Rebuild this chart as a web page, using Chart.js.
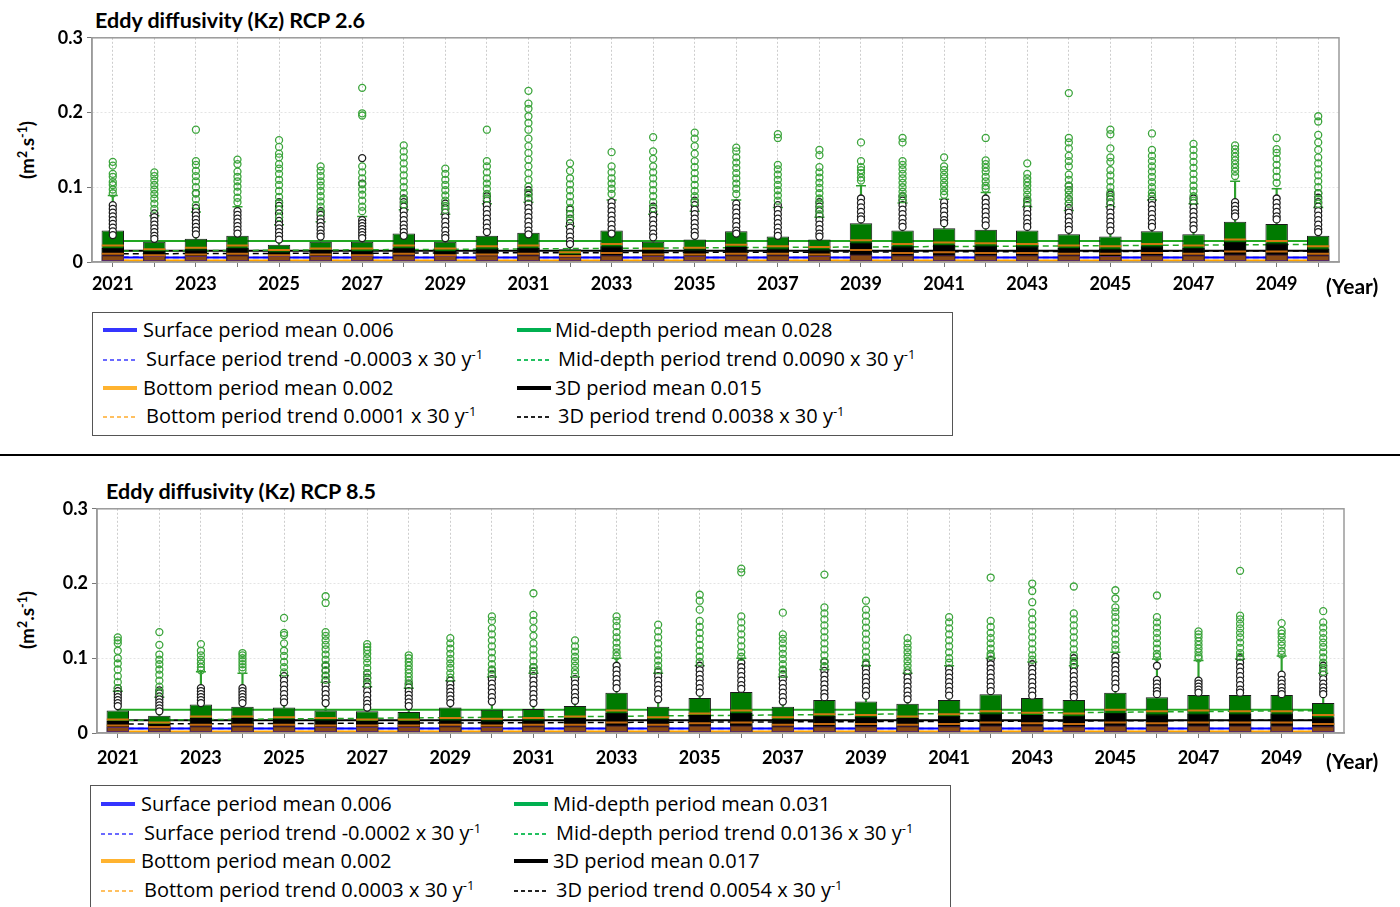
<!DOCTYPE html>
<html>
<head>
<meta charset="utf-8">
<script src="https://cdn.jsdelivr.net/npm/chart.js@4.4.1/dist/chart.umd.min.js"></script>
<style>
body { margin: 0; background: #fff; font-family: Lato, sans-serif; color: #000; }
#page { position: relative; width: 1400px; height: 907px; overflow: hidden; }
canvas { position: absolute; }
.title { position: absolute; font-weight: bold; font-size: 21.5px; line-height: 24px; white-space: nowrap; }
.ytitle { position: absolute; font-weight: bold; font-size: 19px; white-space: nowrap; transform: translate(-50%, -50%) rotate(-90deg); }
.year { position: absolute; font-weight: bold; font-size: 21px; line-height: 24px; }
.legend { position: absolute; border: 1.5px solid #555; box-sizing: border-box; background: #fff; }
.row { position: absolute; font-family: 'Open Sans', sans-serif; font-size: 20px; line-height: 24px; white-space: nowrap; transform: translateY(-50%); }
.sw { position: absolute; width: 34px; }
sup { font-size: 65%; vertical-align: 0.55em; line-height: 0; }
#sep { position: absolute; left: 0; top: 454px; width: 1400px; height: 2px; background: #000; }
</style>
</head>
<body>
<div id="page">
  <div class="title" style="left:95px; top:8px">Eddy diffusivity (Kz) RCP 2.6</div>
  <div class="ytitle" style="left:26px; top:150px">(m<sup>2</sup>.s<sup>-1</sup>)</div>
  <canvas id="c26" width="1352" height="279" style="left:0; top:23px"></canvas>
  <div class="year" style="left:1326px; top:274px">(Year)</div>
  <div class="legend" id="leg26" style="left:92px; top:312px; width:861px; height:124px"></div>

  <div id="sep"></div>

  <div class="title" style="left:106px; top:479px">Eddy diffusivity (Kz) RCP 8.5</div>
  <div class="ytitle" style="left:26px; top:620px">(m<sup>2</sup>.s<sup>-1</sup>)</div>
  <canvas id="c85" width="1357" height="279" style="left:0; top:494px"></canvas>
  <div class="year" style="left:1326px; top:749px">(Year)</div>
  <div class="legend" id="leg85" style="left:90px; top:785px; width:861px; height:140px"></div>
</div>
<script>
const years = ['2021','2022','2023','2024','2025','2026','2027','2028','2029','2030',
    '2031','2032','2033','2034','2035','2036','2037','2038','2039','2040',
    '2041','2042','2043','2044','2045','2046','2047','2048','2049','2050']

// order in legend: Surface, Bottom, Mid-depth, 3D
const layerNames = ['Surface', 'Bottom', 'Mid-depth', '3D']

// ---------- RCP 2.6 ----------
const mean26 = [0.006, 0.002, 0.028, 0.015]
const trend26 = [-0.0003, 0.0001, 0.0090, 0.0038]
const trendStart26 = [0.0062, 0.0019, 0.0145, 0.0110]
const trendEnd26 = [0.0059, 0.0020, 0.0235, 0.0148]

const midQ3_26 = [0.042,0.027,0.031,0.035,0.023,0.027,0.027,0.038,0.027,0.035,0.039,0.017,0.042,0.027,0.030,
    0.041,0.034,0.030,0.052,0.042,0.045,0.043,0.042,0.037,0.034,0.041,0.037,0.054,0.051,0.035]
const midMed_26 = [0.022,0.017,0.019,0.022,0.016,0.018,0.018,0.022,0.018,0.021,0.022,0.013,0.024,0.018,0.019,
    0.023,0.021,0.020,0.029,0.024,0.026,0.025,0.024,0.022,0.021,0.024,0.022,0.030,0.028,0.021]
const midCap_26 = [0.089,0.062,0.067,0.074,0.050,0.054,0.061,0.070,0.064,0.078,0.080,0.048,0.083,0.064,0.068,
    0.083,0.073,0.060,0.102,0.079,0.084,0.093,0.074,0.069,0.074,0.083,0.078,0.108,0.098,0.073]
const d3Q3_26 = [0.019,0.015,0.017,0.019,0.014,0.016,0.015,0.019,0.015,0.018,0.019,0.011,0.021,0.016,0.017,
    0.020,0.018,0.017,0.026,0.021,0.023,0.022,0.021,0.019,0.018,0.021,0.019,0.027,0.025,0.018]
const d3Med_26 = [0.011,0.009,0.010,0.011,0.009,0.010,0.009,0.011,0.009,0.010,0.011,0.008,0.012,0.010,0.010,
    0.011,0.011,0.010,0.016,0.012,0.013,0.012,0.012,0.011,0.011,0.012,0.011,0.014,0.014,0.011]
const surfQ3_26 = [0.009,0.008,0.008,0.009,0.008,0.008,0.008,0.009,0.008,0.009,0.009,0.007,0.009,0.008,0.008,
    0.009,0.009,0.008,0.010,0.009,0.009,0.009,0.009,0.009,0.008,0.009,0.009,0.010,0.010,0.009]
const midOut_26 = [
    [0.134,0.129,0.118,0.114,0.107,0.103,0.097,0.092],
    [0.120,0.115,0.109,0.103,0.097,0.091,0.085,0.078,0.071],
    [0.177,0.135,0.130,0.122,0.115,0.108,0.100,0.092,0.084,0.076],
    [0.137,0.131,0.121,0.114,0.108,0.101,0.094,0.086,0.080],
    [0.163,0.154,0.145,0.140,0.131,0.125,0.118,0.110,0.103,0.095,0.087,0.079,0.070,0.060],
    [0.128,0.122,0.115,0.108,0.102,0.095,0.088,0.081,0.074,0.066],
    [0.233,0.199,0.196,0.128,0.120,0.112,0.104,0.097,0.090,0.082,0.074,0.068],
    [0.156,0.148,0.140,0.132,0.124,0.116,0.108,0.100,0.092,0.084,0.077],
    [0.125,0.118,0.110,0.103,0.096,0.089,0.082,0.075,0.070],
    [0.177,0.135,0.128,0.120,0.112,0.105,0.098,0.091,0.085],
    [0.229,0.212,0.205,0.195,0.186,0.177,0.165,0.155,0.146,0.137,0.128,0.119,0.110,0.101,0.092,0.086],
    [0.132,0.122,0.112,0.104,0.096,0.088,0.080,0.072,0.064,0.057],
    [0.147,0.128,0.120,0.112,0.105,0.098,0.091],
    [0.167,0.148,0.138,0.128,0.120,0.112,0.104,0.096,0.088,0.080,0.072],
    [0.173,0.165,0.155,0.145,0.135,0.127,0.119,0.111,0.103,0.095,0.088,0.080],
    [0.153,0.148,0.140,0.133,0.126,0.119,0.112,0.105,0.098,0.091],
    [0.171,0.166,0.130,0.124,0.117,0.110,0.103,0.096,0.089,0.082],
    [0.150,0.143,0.127,0.120,0.113,0.106,0.099,0.092,0.085,0.078,0.070,0.064],
    [0.160,0.135,0.127,0.123,0.119,0.113,0.109],
    [0.166,0.160,0.135,0.130,0.124,0.118,0.112,0.106,0.100,0.094,0.088,0.084],
    [0.140,0.128,0.123,0.117,0.112,0.106,0.101,0.095,0.090],
    [0.166,0.136,0.131,0.126,0.121,0.114,0.108,0.102,0.098],
    [0.132,0.118,0.112,0.107,0.102,0.096,0.090,0.084,0.079],
    [0.226,0.166,0.160,0.152,0.142,0.135,0.128,0.117,0.110,0.102,0.096,0.090,0.084,0.078],
    [0.177,0.171,0.152,0.140,0.134,0.123,0.116,0.108,0.100,0.093,0.087,0.080],
    [0.172,0.150,0.142,0.135,0.128,0.121,0.114,0.107,0.100,0.093,0.088],
    [0.158,0.150,0.142,0.134,0.126,0.118,0.110,0.102,0.095,0.088,0.082],
    [0.156,0.151,0.146,0.141,0.136,0.131,0.126,0.121,0.115],
    [0.166,0.151,0.146,0.138,0.130,0.122,0.114,0.106],
    [0.195,0.188,0.170,0.160,0.150,0.140,0.132,0.124,0.116,0.108,0.100,0.092,0.084,0.078]
]
const d3Out_26 = [
    [0.076,0.071,0.066,0.061,0.056,0.051,0.046,0.041,0.036],
    [0.065,0.060,0.055,0.050,0.045,0.040,0.035,0.031],
    [0.092,0.072,0.067,0.062,0.057,0.052,0.047,0.042,0.037],
    [0.068,0.063,0.058,0.053,0.048,0.043,0.038],
    [0.080,0.075,0.070,0.065,0.060,0.055,0.050,0.045,0.040,0.035,0.030],
    [0.068,0.063,0.058,0.053,0.048,0.043,0.038,0.034],
    [0.139,0.105,0.056,0.052,0.048,0.044,0.040,0.036,0.032],
    [0.085,0.080,0.074,0.068,0.062,0.056,0.050,0.045,0.040,0.035],
    [0.078,0.072,0.066,0.060,0.054,0.048,0.042,0.036,0.032],
    [0.088,0.082,0.076,0.070,0.064,0.058,0.052,0.046,0.040],
    [0.096,0.090,0.084,0.078,0.072,0.066,0.060,0.054,0.048,0.042,0.037],
    [0.070,0.064,0.058,0.052,0.046,0.040,0.034,0.028,0.024],
    [0.080,0.074,0.068,0.062,0.056,0.050,0.044,0.038],
    [0.074,0.068,0.062,0.056,0.050,0.044,0.038,0.033],
    [0.082,0.076,0.070,0.064,0.058,0.052,0.046,0.040,0.035],
    [0.078,0.072,0.066,0.060,0.054,0.048,0.042,0.038],
    [0.076,0.070,0.064,0.058,0.052,0.046,0.040,0.035],
    [0.080,0.074,0.068,0.062,0.056,0.050,0.044,0.038,0.034],
    [0.085,0.079,0.073,0.067,0.061,0.057],
    [0.088,0.082,0.076,0.070,0.064,0.058,0.052,0.047],
    [0.080,0.074,0.068,0.062,0.056,0.052],
    [0.085,0.079,0.073,0.067,0.061,0.055,0.049],
    [0.082,0.076,0.070,0.064,0.058,0.052,0.047],
    [0.102,0.096,0.084,0.078,0.072,0.066,0.060,0.054,0.048,0.043],
    [0.090,0.084,0.078,0.072,0.066,0.060,0.054,0.048,0.042],
    [0.088,0.082,0.076,0.070,0.064,0.058,0.052,0.047],
    [0.085,0.079,0.073,0.067,0.061,0.055,0.049,0.044],
    [0.080,0.075,0.070,0.065,0.061],
    [0.085,0.079,0.073,0.067,0.061,0.057],
    [0.092,0.086,0.080,0.074,0.068,0.062,0.056,0.050,0.044,0.040]
]

// ---------- RCP 8.5 ----------
const mean85 = [0.006, 0.002, 0.031, 0.017]
const trend85 = [-0.0002, 0.0003, 0.0136, 0.0054]
const trendStart85 = [0.0061, 0.0018, 0.0170, 0.0120]
const trendEnd85 = [0.0059, 0.0021, 0.0300, 0.0172]

const midQ3_85 = [0.030,0.023,0.038,0.035,0.034,0.030,0.029,0.028,0.034,0.031,0.032,0.036,0.054,0.035,0.047,
    0.055,0.035,0.044,0.042,0.039,0.044,0.052,0.047,0.044,0.054,0.048,0.051,0.051,0.051,0.040]
const midMed_85 = [0.018,0.014,0.022,0.022,0.021,0.020,0.018,0.018,0.020,0.019,0.020,0.022,0.030,0.021,0.026,
    0.030,0.021,0.025,0.024,0.022,0.025,0.029,0.027,0.026,0.031,0.029,0.030,0.029,0.029,0.024]
const midCap_85 = [0.056,0.048,0.082,0.080,0.077,0.068,0.062,0.060,0.070,0.075,0.080,0.075,0.100,0.080,0.090,
    0.100,0.075,0.085,0.090,0.080,0.090,0.100,0.095,0.090,0.108,0.099,0.097,0.099,0.103,0.080]
const d3Q3_85 = [0.016,0.012,0.020,0.020,0.019,0.018,0.016,0.016,0.018,0.017,0.018,0.020,0.027,0.019,0.024,
    0.027,0.019,0.023,0.022,0.020,0.023,0.026,0.024,0.023,0.027,0.025,0.026,0.026,0.026,0.021]
const d3Med_85 = [0.010,0.008,0.011,0.011,0.011,0.010,0.010,0.010,0.011,0.010,0.011,0.011,0.014,0.011,0.013,
    0.014,0.011,0.012,0.012,0.011,0.012,0.014,0.013,0.012,0.014,0.013,0.014,0.014,0.014,0.012]
const surfQ3_85 = [0.008,0.007,0.009,0.009,0.009,0.008,0.008,0.008,0.009,0.008,0.009,0.009,0.010,0.009,0.010,
    0.010,0.009,0.009,0.009,0.009,0.009,0.010,0.010,0.009,0.010,0.010,0.010,0.010,0.010,0.009]
const midOut_85 = [
    [0.128,0.124,0.120,0.110,0.100,0.093,0.085,0.076,0.068,0.060],
    [0.135,0.118,0.105,0.098,0.092,0.085,0.078,0.070,0.062,0.055],
    [0.119,0.110,0.104,0.098,0.093,0.088,0.084],
    [0.107,0.104,0.100,0.096,0.092,0.088,0.084],
    [0.154,0.134,0.131,0.120,0.110,0.103,0.095,0.088,0.081],
    [0.183,0.174,0.135,0.130,0.124,0.118,0.112,0.105,0.098,0.091,0.084,0.077,0.071],
    [0.119,0.115,0.111,0.106,0.100,0.094,0.087,0.080,0.073,0.066],
    [0.104,0.100,0.095,0.090,0.085,0.080,0.075,0.070,0.064],
    [0.127,0.120,0.113,0.106,0.099,0.093,0.087,0.080,0.074],
    [0.156,0.150,0.140,0.132,0.124,0.116,0.108,0.100,0.092,0.085,0.079],
    [0.187,0.158,0.150,0.140,0.130,0.120,0.112,0.104,0.096,0.088,0.083],
    [0.124,0.116,0.109,0.102,0.096,0.090,0.084,0.079],
    [0.156,0.150,0.143,0.135,0.128,0.121,0.114,0.108,0.103],
    [0.145,0.136,0.128,0.120,0.112,0.104,0.097,0.090,0.084],
    [0.185,0.177,0.165,0.150,0.142,0.134,0.126,0.118,0.110,0.102,0.095],
    [0.220,0.215,0.156,0.148,0.140,0.132,0.124,0.116,0.108,0.102],
    [0.161,0.132,0.126,0.120,0.113,0.106,0.099,0.092,0.085,0.079],
    [0.212,0.168,0.160,0.152,0.144,0.136,0.128,0.120,0.112,0.104,0.096,0.089],
    [0.177,0.165,0.157,0.149,0.141,0.133,0.125,0.117,0.109,0.101,0.094],
    [0.127,0.120,0.114,0.108,0.102,0.096,0.090,0.084],
    [0.155,0.148,0.140,0.132,0.124,0.116,0.108,0.100,0.094],
    [0.208,0.150,0.142,0.134,0.127,0.120,0.113,0.106,0.103],
    [0.200,0.190,0.175,0.161,0.152,0.144,0.136,0.128,0.120,0.112,0.104,0.098],
    [0.196,0.160,0.152,0.144,0.136,0.128,0.120,0.112,0.104,0.096,0.092],
    [0.191,0.180,0.168,0.162,0.155,0.148,0.140,0.133,0.125,0.118,0.112],
    [0.184,0.155,0.148,0.141,0.134,0.127,0.120,0.113,0.106,0.102],
    [0.136,0.132,0.128,0.123,0.118,0.113,0.108,0.103,0.100],
    [0.217,0.157,0.152,0.146,0.140,0.134,0.128,0.121,0.114,0.107,0.102],
    [0.147,0.137,0.133,0.128,0.122,0.117,0.110,0.105],
    [0.163,0.148,0.141,0.134,0.127,0.121,0.115,0.108,0.101,0.094,0.087,0.082]
]
const d3Out_85 = [
    [0.060,0.056,0.052,0.048,0.044,0.040,0.036],
    [0.057,0.053,0.049,0.045,0.041,0.037,0.033,0.029],
    [0.060,0.056,0.052,0.048,0.044,0.040],
    [0.060,0.056,0.052,0.048,0.044,0.040],
    [0.076,0.070,0.064,0.058,0.052,0.046,0.041],
    [0.090,0.083,0.076,0.070,0.064,0.058,0.052,0.046,0.040],
    [0.080,0.074,0.068,0.062,0.056,0.050,0.044,0.039,0.034],
    [0.066,0.061,0.056,0.051,0.046,0.041,0.036],
    [0.070,0.065,0.060,0.055,0.050,0.045,0.040],
    [0.084,0.078,0.072,0.066,0.060,0.054,0.048,0.042],
    [0.088,0.082,0.076,0.070,0.064,0.058,0.052,0.046,0.040],
    [0.072,0.066,0.060,0.054,0.048,0.043],
    [0.090,0.084,0.078,0.072,0.066,0.060],
    [0.082,0.076,0.070,0.064,0.058,0.052,0.045],
    [0.090,0.084,0.078,0.072,0.066,0.060,0.054],
    [0.094,0.088,0.082,0.076,0.070,0.064,0.059],
    [0.084,0.078,0.072,0.066,0.060,0.054,0.048,0.042],
    [0.095,0.089,0.083,0.077,0.071,0.065,0.059,0.053,0.048],
    [0.092,0.086,0.080,0.074,0.068,0.062,0.056,0.050],
    [0.080,0.074,0.068,0.062,0.056,0.050,0.045],
    [0.086,0.080,0.074,0.068,0.062,0.056,0.050],
    [0.098,0.092,0.086,0.080,0.074,0.068,0.062,0.056],
    [0.092,0.086,0.080,0.074,0.068,0.062,0.056,0.050],
    [0.100,0.094,0.088,0.082,0.076,0.070,0.064,0.058,0.052,0.048],
    [0.102,0.096,0.090,0.084,0.078,0.072,0.066,0.060],
    [0.090,0.071,0.066,0.061,0.056,0.052],
    [0.070,0.066,0.062,0.058,0.054],
    [0.100,0.094,0.088,0.082,0.076,0.070,0.064,0.058,0.054],
    [0.078,0.071,0.066,0.061,0.056,0.052],
    [0.090,0.084,0.078,0.072,0.066,0.061,0.056,0.052]
]

// chart colours (surface, bottom, mid-depth, 3D)
const lineColors = ['#0000ff', '#ffa500', '#22a722', '#000000']
const legSolid = ['#3535ff', '#ffb330', '#00b050', '#000000']
const legDash = ['#6a6aff', '#ffc060', '#22c060', '#222222']

Chart.defaults.font.family = 'Lato, sans-serif'

const frame = {
    id: 'frame',
    afterDatasetsDraw(chart) {
        const {ctx, chartArea: a} = chart
        ctx.save()
        ctx.strokeStyle = '#9a9a9a'
        ctx.lineWidth = 1.5
        ctx.strokeRect(a.left, a.top, a.right - a.left, a.bottom - a.top)
        ctx.restore()
    }
}

function pts(arr) {
    return arr.map((v, i) => ({x: years[i], y: v}))
}

function flat(lists) {
    const out = []
    lists.forEach((l, i) => l.forEach(v => out.push({x: years[i], y: v})))
    return out
}

function ends(a, b) {
    return [{x: years[0], y: a}, {x: years[years.length - 1], y: b}]
}

function boxChart(id, d) {
    const sets = []
    for (let k = 0; k < 4; k++) {
        sets.push({
            type: 'line', data: ends(d.mean[k], d.mean[k]), borderColor: lineColors[k],
            borderWidth: 2, pointRadius: 0, order: 20
        })
        sets.push({
            type: 'line', data: ends(d.tStart[k], d.tEnd[k]), borderColor: lineColors[k],
            borderWidth: 1.5, borderDash: [6, 4], pointRadius: 0, order: 19
        })
    }
    const bar = {categoryPercentage: 1, barPercentage: 0.54, grouped: false, borderSkipped: false}
    sets.push({
        type: 'bar', data: d.midQ3.map((v, i) => [v, d.midCap[i]]), backgroundColor: '#2ca02c',
        barThickness: 1.5, grouped: false, order: 15
    })
    sets.push(Object.assign({
        type: 'bar', data: d.midQ3.map(v => [0.0015, v]), backgroundColor: '#007a00',
        borderColor: '#1a1a1a', borderWidth: 1, order: 14
    }, bar))
    sets.push(Object.assign({
        type: 'bar', data: d.d3Q3.map(v => [0.0015, v]), backgroundColor: '#000000',
        borderColor: '#000000', borderWidth: 1, order: 13
    }, bar))
    sets.push(Object.assign({
        type: 'bar', data: d.surfQ3.map(v => [0.0015, v]), backgroundColor: '#8a4a14',
        borderColor: '#5a2a66', borderWidth: 1, order: 12
    }, bar))
    const tick = (arr, color, r, w, ord) => ({
        type: 'line', data: pts(arr), showLine: false, pointStyle: 'line', pointRadius: r,
        borderColor: color, borderWidth: w, order: ord
    })
    sets.push(tick(d.midMed, '#d07a10', 11, 2, 11))
    sets.push(tick(d.d3Med, '#c46a10', 11, 2, 11))
    sets.push(tick(d.midCap, '#2ca02c', 5, 1.5, 10))
    sets.push({
        type: 'line', data: flat(d.d3Out), showLine: false, pointStyle: 'circle', pointRadius: 3.5,
        borderColor: '#1e1e1e', backgroundColor: '#fff', borderWidth: 1.3, order: 9
    })
    sets.push({
        type: 'line', data: flat(d.midOut), showLine: false, pointStyle: 'circle', pointRadius: 3.5,
        borderColor: '#3ca53c', backgroundColor: 'rgba(255,255,255,0)', borderWidth: 1.3, order: 8
    })

    return new Chart(document.getElementById(id), {
        type: 'bar',
        data: {labels: years, datasets: sets},
        plugins: [frame],
        options: {
            responsive: false,
            animation: false,
            events: [],
            layout: {padding: {top: 0, right: 6, left: d.left, bottom: 0}},
            plugins: {legend: {display: false}, tooltip: {enabled: false}},
            scales: {
                x: {
                    type: 'category', offset: true,
                    afterFit: s => { s.height = 40 },
                    grid: {offset: false, color: '#cdcdcd', tickColor: '#777', tickLength: 5, tickBorderDash: []},
                    border: {color: '#9a9a9a', width: 1.5, dash: [2, 2]},
                    ticks: {
                        autoSkip: false, maxRotation: 0, padding: d.tickPad, color: '#000',
                        font: {size: 18, weight: 'bold'},
                        callback: (v, i) => i % 2 === 0 ? years[i] : ''
                    }
                },
                y: {
                    min: 0, max: 0.3,
                    afterFit: s => { s.width = 92 },
                    grid: {color: '#e4e4e4', tickColor: '#777', tickLength: 5, tickBorderDash: []},
                    border: {color: '#9a9a9a', width: 1.5, dash: [2, 2]},
                    ticks: {
                        stepSize: 0.1, padding: 4, color: '#000',
                        font: {size: 18, weight: 'bold'},
                        callback: v => v === 0 ? '0' : v.toFixed(1)
                    }
                }
            }
        }
    })
}

function legend(id, mean, trend, rowsY, lineX, textX) {
    const box = document.getElementById(id)
    const order = [[0, 1], [2, 3]]
    order.forEach((pair, col) => {
        let r = 0
        pair.forEach(k => {
            const name = layerNames[k]
            const items = [
                {solid: true, html: `${name} period mean ${mean[k].toFixed(3)}`},
                {solid: false, html: `${name} period trend ${trend[k].toFixed(4)} x 30 y<sup>-1</sup>`}
            ]
            items.forEach(it => {
                const y = rowsY[r]
                const sw = document.createElement('div')
                sw.className = 'sw'
                sw.style.left = lineX[col] + 'px'
                if (it.solid) {
                    sw.style.top = (y - 2) + 'px'
                    sw.style.height = '4px'
                    sw.style.background = legSolid[k]
                } else {
                    sw.style.top = y + 'px'
                    sw.style.height = '1.5px'
                    sw.style.background = `repeating-linear-gradient(90deg, ${legDash[k]} 0 4px, transparent 4px 7px)`
                }
                box.appendChild(sw)
                const t = document.createElement('div')
                t.className = 'row'
                t.style.left = (textX[col] + (it.solid ? 0 : 3)) + 'px'
                t.style.top = y + 'px'
                t.innerHTML = it.html
                box.appendChild(t)
                r++
            })
        })
    })
}

boxChart('c26', {
    mean: mean26, tStart: trendStart26, tEnd: trendEnd26, left: 0, tickPad: 6,
    midQ3: midQ3_26, midMed: midMed_26, midCap: midCap_26, d3Q3: d3Q3_26, d3Med: d3Med_26,
    surfQ3: surfQ3_26, midOut: midOut_26, d3Out: d3Out_26
})
boxChart('c85', {
    mean: mean85, tStart: trendStart85, tEnd: trendEnd85, left: 5, tickPad: 9,
    midQ3: midQ3_85, midMed: midMed_85, midCap: midCap_85, d3Q3: d3Q3_85, d3Med: d3Med_85,
    surfQ3: surfQ3_85, midOut: midOut_85, d3Out: d3Out_85
})

legend('leg26', mean26, trend26, [17, 46, 75, 103], [10, 424], [50, 462])
legend('leg85', mean85, trend85, [18, 47, 75, 104], [10, 423], [50, 462])
</script>
</body>
</html>
